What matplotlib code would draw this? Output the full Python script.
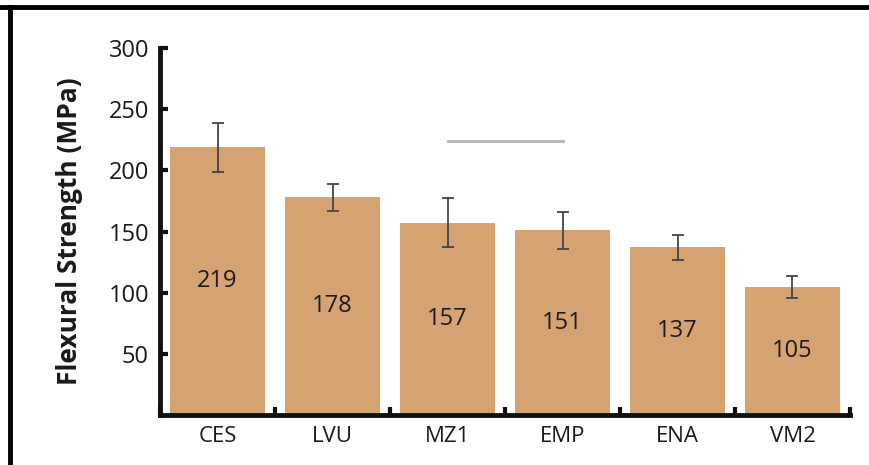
import matplotlib
matplotlib.use("Agg")
import matplotlib.pyplot as plt
from matplotlib.lines import Line2D
import numpy as np

categories = ["CES", "LVU", "MZ1", "EMP", "ENA", "VM2"]
values = [219, 178, 157, 151, 137, 105]
errors = [20, 11, 20, 15, 10, 9]
yticks = [50, 100, 150, 200, 250, 300]
bracket_pair = (2, 3)
bracket_y = 224

plt.rcParams['font.family'] = ['Open Sans', 'DejaVu Sans']

fig = plt.figure(figsize=(8.7, 4.65), dpi=100)
ax = fig.add_axes([0.184, 0.1075, 0.793, 0.7893])

x = np.arange(len(categories))
ax.bar(x, values, width=0.83, color='#d5a371', zorder=2)
ax.errorbar(x, values, yerr=errors, fmt='none', ecolor='#444444',
            elinewidth=1.3, capsize=4, capthick=1.3, zorder=3)
for xi, v in zip(x, values):
    ax.text(xi, v / 2, str(v), ha='center', va='center', fontsize=17,
            color='#1a1a1a', zorder=4)

ax.plot([x[bracket_pair[0]], x[bracket_pair[1]]], [bracket_y, bracket_y],
        color='#b3b3b3', lw=2, zorder=3)

ax.set_xlim(-0.5, len(categories) - 0.5)
ax.set_ylim(0, 300)
ax.set_yticks(yticks)
ax.set_yticklabels([str(t) for t in yticks], fontsize=17, color='#1a1a1a')
ax.set_xticks(np.arange(len(categories) + 1) - 0.5)
ax.set_xticklabels([])
ax.set_xticks(x, minor=True)
ax.set_xticklabels(categories, minor=True, fontsize=16, color='#1a1a1a')
ax.tick_params(axis='x', which='minor', length=0, pad=8)
ax.tick_params(axis='both', which='major', direction='in', length=6,
               width=3, color='#111111')
ax.tick_params(axis='y', which='major', pad=8)

for s in ['top', 'right']:
    ax.spines[s].set_visible(False)
for s in ['left', 'bottom']:
    ax.spines[s].set_linewidth(3.5)
    ax.spines[s].set_color('#111111')

ax.set_ylabel('Flexural Strength (MPa)', fontsize=19, fontweight='bold',
              color='#1a1a1a')
ax.yaxis.set_label_coords(-0.112, 0.5)

# outer frame (top and left)
fig.add_artist(Line2D([0.0, 1.0], [1 - 7 / 465, 1 - 7 / 465],
                      transform=fig.transFigure, color='black', lw=3.5))
fig.add_artist(Line2D([10 / 870, 10 / 870], [0.0, 1 - 7 / 465],
                      transform=fig.transFigure, color='black', lw=3.5))

fig.savefig('out.png', dpi=100)
